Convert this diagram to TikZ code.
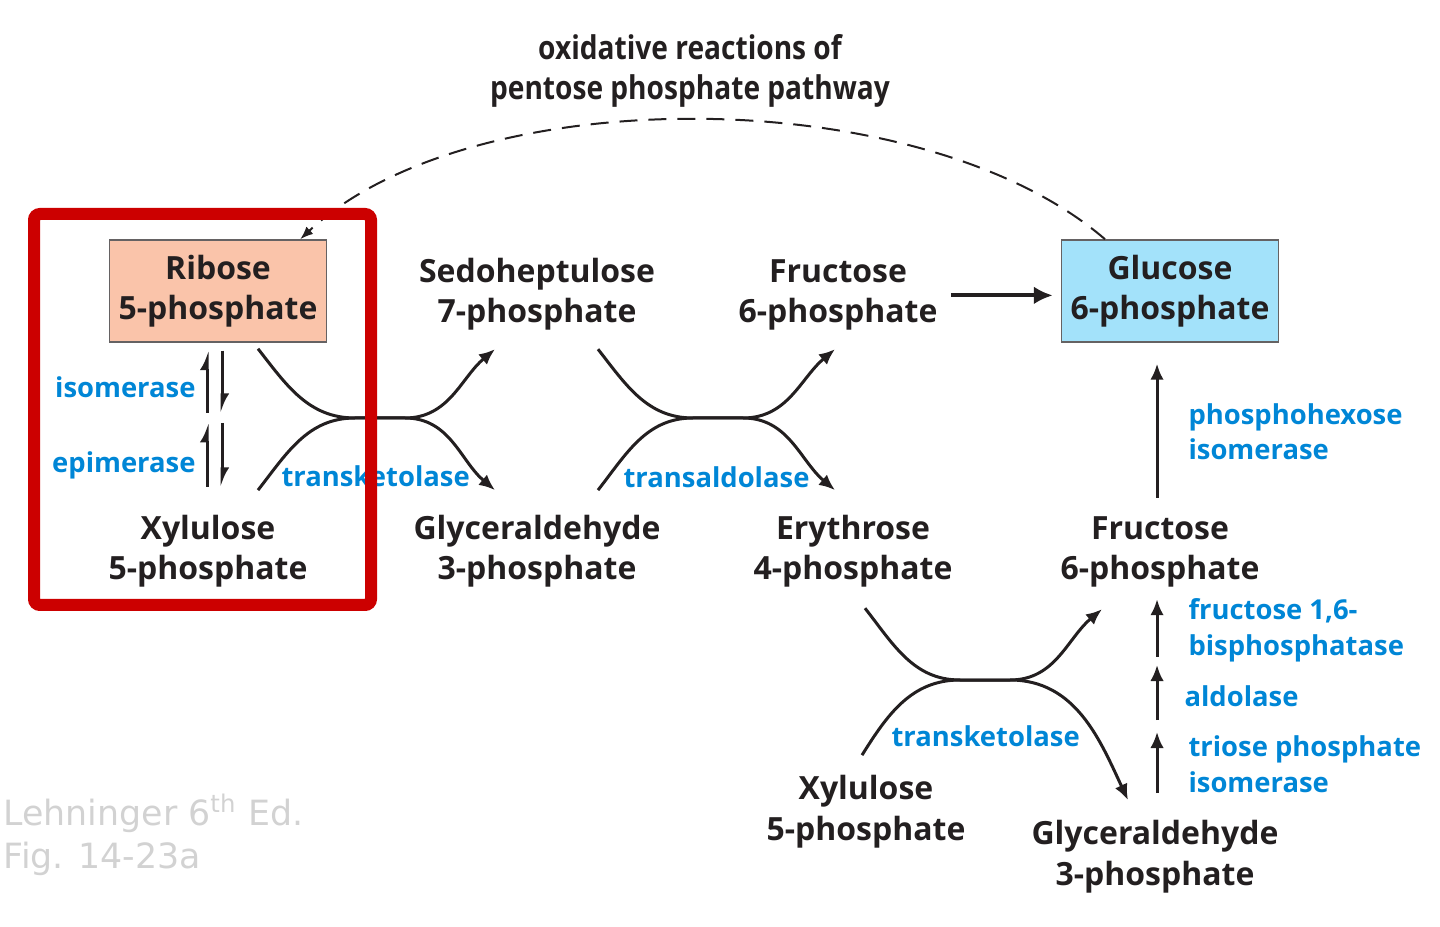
\documentclass[tikz,border=0pt]{standalone}
\usepackage{fontspec}
\setmainfont{Open Sans}
\newfontfamily\condfont[FakeStretch=0.86]{Open Sans}
\newfontfamily\notefont{DejaVu Sans}
\usetikzlibrary{arrows.meta, positioning}

\definecolor{enzblue}{RGB}{0,134,214}
\definecolor{metblack}{RGB}{35,31,32}
\definecolor{riboseorange}{RGB}{250,196,170}
\definecolor{glucoseblue}{RGB}{163,226,250}
\definecolor{framered}{RGB}{204,0,0}
\definecolor{notegray}{RGB}{210,210,210}

\begin{document}
\begin{tikzpicture}[x=0.1mm, y=0.1mm, line width=0.3mm, draw=metblack,
    met/.style={font=\bfseries\fontsize{9.1}{11.4}\selectfont, text=metblack, align=center, inner sep=0pt},
    metbox/.style={met, draw=metblack!70, line width=0.15mm, minimum width=21.7mm, minimum height=10.2mm},
    enz/.style={font=\bfseries\fontsize{7.8}{10.2}\selectfont, text=enzblue, inner sep=0pt},
    rxn/.style={-{Latex[length=1.6mm, width=1.35mm]}},
    harp/.style={line width=0.3mm, -{Latex[harpoon, length=1.5mm, width=1.5mm]}},
    note/.style={font=\notefont\fontsize{9.9}{12.2}\selectfont, text=notegray, align=left, inner sep=0pt}]

  \useasboundingbox (0,0) rectangle (1440,-927);

  % Draw the metabolites (base = last line)
  \node[metbox, fill=riboseorange] (r5p) at (218,-291) {Ribose\\5-phosphate};
  \node[met, anchor=base] (sh7p) at (537,-323) {Sedoheptulose\\7-phosphate};
  \node[met, anchor=base] (f6pa) at (838,-323) {Fructose\\6-phosphate};
  \node[metbox, fill=glucoseblue] (g6p) at (1170,-291) {Glucose\\6-phosphate};

  \node[met, anchor=base] (xu5pa) at (208,-580) {Xylulose\\5-phosphate};
  \node[met, anchor=base] (ga3pa) at (537,-580) {Glyceraldehyde\\3-phosphate};
  \node[met, anchor=base] (e4p) at (853,-580) {Erythrose\\4-phosphate};
  \node[met, anchor=base] (f6pb) at (1160,-580) {Fructose\\6-phosphate};

  \node[met, anchor=base] (xu5pb) at (866,-840) {Xylulose\\5-phosphate};
  \node[met, anchor=base] (ga3pb) at (1155,-885) {Glyceraldehyde\\3-phosphate};

  % intermediates that are not named in the figure
  \coordinate (ru5p) at (215,-418);
  \coordinate (tk1) at (380,-418);
  \coordinate (ta) at (718,-418);
  \coordinate (tk2) at (985,-680);
  \coordinate (dhap) at (1157,-726);
  \coordinate (fbp) at (1157,-661);

  % Draw the oxidative branch
  \node[met, font=\condfont\bfseries\fontsize{9.3}{11.4}\selectfont, anchor=base] (ox) at (690,-100) {oxidative reactions of\\pentose phosphate pathway};
  \draw[line width=0.2mm, dash pattern=on 1.8mm off 1.1mm, -{Latex[length=1.3mm, width=1mm]}]
    ([shift={(-65,0)}]g6p.north) .. controls (920,-80) and (470,-80) .. ([shift={(-27,0)}]r5p.north east);

  % Draw the isomerase and epimerase steps
  \draw[harp] ([shift={(-8,5)}]ru5p) -- ([shift={(-11,-8)}]r5p.south);
  \draw[harp] ([shift={(4,-8)}]r5p.south) -- ([shift={(7,5)}]ru5p);
  \draw[harp] ([shift={(-8,-69)}]ru5p) -- ([shift={(-8,-5)}]ru5p);
  \draw[harp] ([shift={(7,-5)}]ru5p) -- ([shift={(7,-69)}]ru5p);
  \node[enz, anchor=base east] (isom) at (197,-398) {isomerase};
  \node[enz, anchor=base east] (epim) at (197,-473) {epimerase};

  % Draw the first transketolase crossing
  \draw[rxn] ([shift={(40,-6)}]r5p.south) to[out=-52, in=180] ([xshift=-2.5mm]tk1)
    -- ([xshift=2.5mm]tk1) to[out=0, in=-140] ([shift={(-42,-17)}]sh7p.south);
  \draw[rxn] ([shift={(50,24)}]xu5pa.north) to[out=52, in=180] ([xshift=-2.5mm]tk1)
    -- ([xshift=2.5mm]tk1) to[out=0, in=140] ([shift={(-42,24)}]ga3pa.north);
  \node[enz, anchor=base west] (tkl1) at (280,-487) {transketolase};

  % Draw the transaldolase crossing
  \draw[rxn] ([shift={(61,-17)}]sh7p.south) to[out=-52, in=180] ([xshift=-2.5mm]ta)
    -- ([xshift=2.5mm]ta) to[out=0, in=-140] ([shift={(-3,-17)}]f6pa.south);
  \draw[rxn] ([shift={(61,24)}]ga3pa.north) to[out=52, in=180] ([xshift=-2.5mm]ta)
    -- ([xshift=2.5mm]ta) to[out=0, in=140] ([shift={(-18,24)}]e4p.north);
  \node[enz, anchor=base west] (tald) at (622,-488) {transaldolase};

  % Draw the second transketolase crossing
  \draw[rxn] ([shift={(12,-19)}]e4p.south) to[out=-52, in=180] ([xshift=-2.5mm]tk2)
    -- ([xshift=2.5mm]tk2) to[out=0, in=-140] ([shift={(-58,-20)}]f6pb.south);
  \draw[rxn] ([shift={(-4,19)}]xu5pb.north) to[out=58, in=180] ([xshift=-2.5mm]tk2)
    -- ([xshift=2.5mm]tk2) to[out=0, in=115] ([shift={(-27,19)}]ga3pb.north);
  \node[enz, anchor=base west] (tkl2) at (890,-746) {transketolase};

  % Draw the steps back to glucose 6-phosphate
  \draw[rxn, line width=0.4mm, -{Latex[length=1.9mm, width=1.8mm]}] ([xshift=1.2mm]f6pa.east) -- ([xshift=-0.8mm]g6p.west |- f6pa.east);
  \draw[rxn] ([shift={(-3,18)}]f6pb.north) -- ([shift={(-13,-21)}]g6p.south);
  \node[enz, anchor=base west, align=left] (pgi) at (1187,-460) {phosphohexose\\isomerase};

  \draw[rxn] ([shift={(2,26)}]ga3pb.north) -- ([yshift=-0.6mm]dhap);
  \draw[rxn] ([yshift=0.6mm]dhap) -- ([yshift=-0.4mm]fbp);
  \draw[rxn] ([yshift=0.4mm]fbp) -- ([shift={(-3,-10)}]f6pb.south);
  \node[enz, anchor=base west, align=left] (fbpase) at (1187,-655) {fructose 1,6-\\bisphosphatase};
  \node[enz, anchor=base west] (aldo) at (1183,-706) {aldolase};
  \node[enz, anchor=base west, align=left] (tpi) at (1187,-792) {triose phosphate\\isomerase};

  % Draw the frame around the pentose phosphates
  \draw[framered, line width=1.2mm, rounded corners=0.6mm] (34,-214) rectangle (371,-605);

  % source note
  \node[note, anchor=base west] (credit) at (2,-868) {Lehninger 6\textsuperscript{th} Ed.\\Fig. 14-23a};

\end{tikzpicture}
\end{document}
